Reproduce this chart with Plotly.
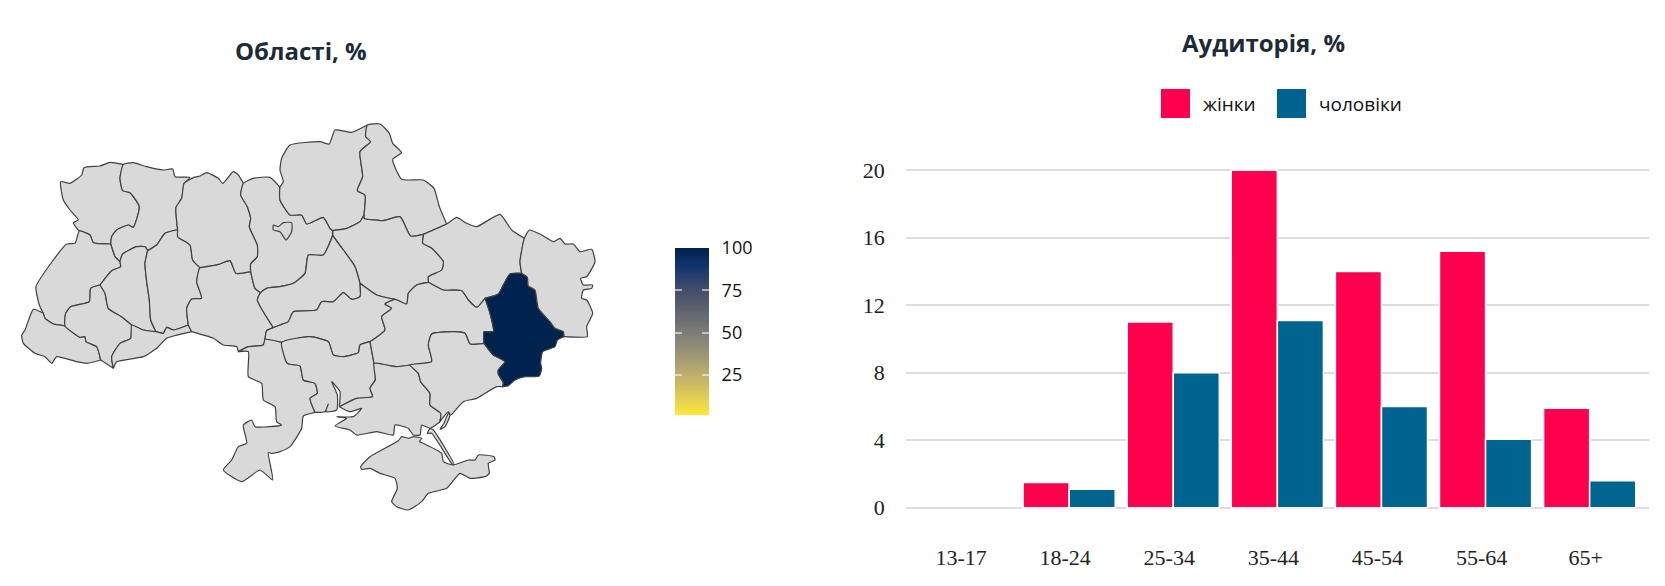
import numpy as np
import plotly.colors as pc
import plotly.graph_objects as go

# bar chart data
age_groups = ["13-17", "18-24", "25-34", "35-44", "45-54", "55-64", "65+"]
women = [0, 1.5, 11, 20, 14, 15.2, 5.9]
men = [0, 1.1, 8, 11.1, 6, 4.05, 1.6]
y_ticks = [0, 4, 8, 12, 16, 20]

# map data, only one region has a value
region_values = {"Донецька": 100}
cbar_min = 1.4
cbar_max = 100
cbar_ticks = [25, 50, 75, 100]

# oblast borders, 3 map units = 1 screen pixel
volyn_north = [(238, 693), (220, 668), (235, 660), (210, 630), (190, 600), (182, 545), (210, 550), (245, 525), (252, 503), (300, 498), (330, 487), (370, 493)]
volyn_rivne = [(370, 493), (360, 535), (368, 572), (390, 578), (418, 620), (400, 682), (385, 675), (350, 690), (335, 710), (332, 732)]
volyn_lviv = [(332, 732), (280, 728), (270, 705), (238, 693)]
rivne_north = [(370, 493), (400, 488), (440, 500), (490, 510), (518, 507), (525, 530), (570, 532), (552, 550)]
rivne_zhytomyr = [(552, 550), (545, 595), (528, 622), (533, 690)]
rivne_khmel = [(533, 690), (495, 700), (470, 735), (443, 752)]
rivne_tern = [(443, 752), (435, 740), (410, 740), (368, 762), (360, 785)]
rivne_lviv = [(360, 785), (345, 770), (332, 732)]
lviv_west = [(238, 693), (225, 730), (200, 732), (160, 780), (108, 860), (118, 915), (130, 940)]
lviv_zak = [(130, 940), (135, 955), (160, 972), (195, 978)]
lviv_if = [(195, 978), (197, 940), (212, 920), (268, 905), (272, 865), (300, 855)]
lviv_tern = [(300, 855), (335, 812), (362, 800), (360, 785)]
tern_khm = [(443, 752), (435, 790), (440, 845), (448, 900), (452, 960), (468, 995)]
tern_chern = [(468, 995), (430, 990), (395, 975)]
tern_if = [(395, 975), (365, 950), (325, 925), (315, 880), (300, 855)]
khm_zhy = [(533, 690), (533, 710), (570, 735), (578, 780), (600, 803)]
khm_vin = [(600, 803), (590, 845), (605, 895), (575, 897), (560, 925), (565, 975)]
khm_chern = [(565, 975), (520, 990), (500, 982), (490, 1000), (468, 995)]
chern_if = [(395, 975), (392, 1015), (360, 1030), (335, 1070), (340, 1105)]
chern_south = [(340, 1105), (350, 1085), (430, 1070), (470, 1045), (500, 1015), (575, 995)]
chern_vin = [(565, 975), (575, 995)]
if_zak = [(195, 978), (240, 1012), (255, 1010), (258, 1025), (290, 1040), (302, 1080)]
if_south = [(302, 1080), (340, 1105)]
zak_outer = [(302, 1080), (262, 1090), (230, 1085), (170, 1070), (155, 1090), (135, 1070), (105, 1060), (70, 1030), (65, 1005), (75, 990), (100, 928), (130, 940)]
vin_zhy = [(600, 803), (655, 793), (690, 782), (708, 820), (752, 815)]
vin_kyiv = [(752, 815), (765, 865), (782, 878)]
vin_cher = [(782, 878), (772, 900), (820, 983)]
vin_kir = [(820, 983), (800, 992), (795, 1018)]
vin_odesa = [(795, 1018), (790, 1035), (745, 1040), (715, 1055)]
vin_south = [(575, 995), (640, 1015), (670, 1035), (710, 1040), (715, 1055)]
zhy_north = [(552, 550), (582, 532), (600, 528), (620, 518), (655, 535), (668, 550), (700, 515), (715, 525), (730, 550)]
zhy_kyiv = [(730, 550), (722, 585), (742, 620), (752, 655), (748, 680), (772, 735), (772, 770), (752, 792), (752, 815)]
kyiv_north = [(730, 550), (760, 535), (810, 532), (840, 562)]
kyiv_chernihiv = [(840, 562), (840, 600), (870, 645), (905, 645), (920, 672), (970, 652), (990, 685), (998, 692)]
kyiv_cher = [(998, 692), (998, 705), (970, 765), (925, 765), (915, 820), (880, 850), (840, 860), (800, 865), (782, 878)]
chernihiv_west = [(840, 562), (850, 545), (840, 510), (845, 475), (870, 435), (960, 425), (988, 432), (1005, 390), (1055, 397), (1102, 375)]
chernihiv_sumy = [(1102, 375), (1097, 410), (1112, 425), (1080, 455), (1088, 530), (1072, 572), (1095, 585), (1092, 645)]
chernihiv_poltava = [(1092, 645), (1080, 665), (1040, 685), (998, 692)]
sumy_north = [(1102, 375), (1140, 372), (1168, 400), (1178, 430), (1205, 458), (1178, 478), (1205, 538), (1270, 540), (1302, 565), (1318, 620), (1340, 672)]
sumy_poltava = [(1092, 645), (1092, 655), (1150, 662), (1200, 650), (1232, 708), (1270, 703)]
sumy_kharkiv = [(1270, 703), (1340, 672)]
kharkiv_north = [(1340, 672), (1370, 652), (1400, 670), (1430, 680), (1500, 643), (1535, 690), (1573, 715)]
kharkiv_luhansk = [(1573, 715), (1560, 785), (1565, 820)]
donetsk_kharkiv = [(1565, 820), (1530, 822), (1510, 855), (1495, 882), (1455, 895)]
kharkiv_dnipro = [(1455, 895), (1430, 922), (1405, 900), (1385, 872), (1330, 870), (1285, 847)]
kharkiv_poltava = [(1285, 847), (1285, 830), (1325, 810), (1330, 785), (1295, 745), (1268, 730), (1270, 703)]
poltava_cher = [(998, 692), (998, 705), (1030, 750), (1065, 800), (1080, 850)]
cher_kir = [(1080, 850), (1080, 890), (1055, 898), (1030, 878), (1000, 905), (965, 905), (950, 930), (880, 935), (865, 965), (840, 975), (820, 983)]
poltava_kir = [(1080, 850), (1130, 885), (1185, 898)]
poltava_dnipro = [(1185, 898), (1220, 912), (1225, 880), (1250, 855), (1285, 847)]
kir_dnipro = [(1185, 898), (1155, 912), (1175, 925), (1145, 950), (1155, 990), (1110, 1025)]
kir_myk = [(1110, 1025), (1080, 1035), (1075, 1058), (1030, 1070), (1000, 1065), (985, 1025), (930, 1010), (845, 1027)]
kir_odesa = [(845, 1027), (795, 1018)]
myk_odesa = [(845, 1027), (862, 1090), (900, 1098), (910, 1140), (945, 1150), (952, 1180), (930, 1195), (945, 1237)]
odesa_coast = [(945, 1237), (910, 1248), (905, 1285), (870, 1340), (840, 1355), (815, 1360), (805, 1358), (818, 1440), (780, 1410), (725, 1445), (670, 1410), (695, 1380), (715, 1340), (740, 1330), (730, 1275), (755, 1260), (765, 1280), (810, 1280), (845, 1275), (830, 1265), (825, 1220), (790, 1200), (785, 1150), (745, 1130), (745, 1055), (715, 1055)]
myk_coast = [(945, 1237), (975, 1235), (985, 1212), (978, 1235), (1010, 1230), (1012, 1185), (995, 1145), (1020, 1175), (1018, 1220)]
myk_kherson = [(1018, 1220), (1070, 1195), (1118, 1190), (1110, 1165), (1126, 1140), (1122, 1090)]
myk_dnipro = [(1110, 1025), (1122, 1090)]
dnipro_kherson = [(1122, 1090), (1160, 1095), (1190, 1100), (1230, 1095)]
dnipro_zap = [(1230, 1095), (1295, 1085), (1285, 1035), (1295, 1002), (1360, 995), (1395, 1000), (1410, 1032), (1452, 1030)]
donetsk_dnipro = [(1455, 895), (1470, 940), (1480, 995), (1452, 995), (1452, 1030)]
kherson_zap = [(1230, 1095), (1255, 1120), (1262, 1145), (1290, 1180), (1290, 1215), (1322, 1240), (1320, 1265)]
kherson_coast = [(1018, 1220), (1050, 1235), (1085, 1225), (1060, 1250), (1010, 1250), (1040, 1255), (1005, 1278), (1050, 1290), (1070, 1305), (1130, 1295), (1180, 1305), (1185, 1275), (1225, 1285), (1240, 1305), (1260, 1305), (1265, 1275), (1290, 1285), (1320, 1265)]
zap_coast = [(1320, 1265), (1345, 1235), (1350, 1245), (1335, 1280), (1320, 1288), (1332, 1270), (1345, 1240), (1352, 1245), (1390, 1205), (1430, 1195), (1490, 1160), (1508, 1160)]
donetsk_zap = [(1452, 1030), (1480, 1065), (1515, 1085), (1495, 1110), (1495, 1122), (1510, 1148), (1508, 1160)]
donetsk_russia = [(1508, 1160), (1525, 1157), (1545, 1140), (1575, 1130), (1618, 1128), (1625, 1105), (1622, 1090), (1628, 1055), (1665, 1040), (1672, 1020), (1692, 1010)]
donetsk_luhansk = [(1565, 820), (1582, 832), (1585, 858), (1605, 870), (1615, 925), (1650, 965), (1665, 985), (1690, 995), (1692, 1010)]
luhansk_outer = [(1573, 715), (1588, 690), (1625, 705), (1660, 725), (1680, 715), (1695, 732), (1720, 732), (1740, 755), (1775, 748), (1785, 785), (1760, 830), (1742, 835), (1750, 855), (1778, 855), (1775, 865), (1750, 870), (1745, 895), (1760, 900), (1778, 940), (1760, 980), (1762, 1010), (1692, 1010)]
crimea_outline = [(1082, 1400), (1110, 1370), (1195, 1322), (1205, 1310), (1225, 1315), (1240, 1310), (1265, 1315), (1258, 1325), (1270, 1330), (1325, 1360), (1330, 1385), (1360, 1395), (1405, 1380), (1425, 1380), (1435, 1365), (1482, 1370), (1485, 1380), (1465, 1390), (1468, 1420), (1455, 1430), (1410, 1435), (1380, 1420), (1340, 1465), (1285, 1480), (1265, 1505), (1225, 1530), (1190, 1520), (1175, 1505), (1192, 1465), (1185, 1435), (1140, 1420), (1110, 1405), (1085, 1408), (1082, 1400)]
arabat_spit = [(1282, 1300), (1290, 1286), (1300, 1290), (1362, 1393), (1357, 1393), (1295, 1300), (1282, 1300)]
kyiv_city = [(820, 675), (835, 680), (850, 668), (875, 668), (875, 695), (858, 720), (840, 695), (820, 690), (820, 675)]


def rev(arc):
    return arc[::-1]


regions = {
    "Волинська": [volyn_north, volyn_rivne, volyn_lviv],
    "Рівненська": [rivne_north, rivne_zhytomyr, rivne_khmel, rivne_tern, rivne_lviv, rev(volyn_rivne)],
    "Львівська": [lviv_west, lviv_zak, lviv_if, lviv_tern, rivne_lviv, volyn_lviv],
    "Закарпатська": [rev(lviv_zak), rev(zak_outer), rev(if_zak)],
    "Івано-Франківська": [if_zak, if_south, rev(chern_if), tern_if, rev(lviv_if)],
    "Тернопільська": [rev(rivne_tern), tern_khm, tern_chern, tern_if, lviv_tern],
    "Хмельницька": [rivne_khmel, tern_khm, rev(khm_chern), rev(khm_vin), rev(khm_zhy)],
    "Чернівецька": [rev(tern_chern), rev(khm_chern), chern_vin, rev(chern_south), rev(chern_if)],
    "Вінницька": [vin_zhy, vin_kyiv, vin_cher, vin_kir, vin_odesa, rev(vin_south), rev(chern_vin), rev(khm_vin)],
    "Житомирська": [zhy_north, zhy_kyiv, rev(vin_zhy), rev(khm_zhy), rev(rivne_zhytomyr)],
    "Київська": [kyiv_north, kyiv_chernihiv, kyiv_cher, rev(vin_kyiv), rev(zhy_kyiv)],
    "Чернігівська": [chernihiv_west, chernihiv_sumy, chernihiv_poltava, rev(kyiv_chernihiv)],
    "Сумська": [sumy_north, rev(sumy_kharkiv), rev(sumy_poltava), rev(chernihiv_sumy)],
    "Харківська": [kharkiv_north, kharkiv_luhansk, donetsk_kharkiv, kharkiv_dnipro, kharkiv_poltava, sumy_kharkiv],
    "Полтавська": [sumy_poltava, rev(kharkiv_poltava), rev(poltava_dnipro), rev(poltava_kir), rev(poltava_cher), rev(chernihiv_poltava)],
    "Черкаська": [rev(kyiv_cher), poltava_cher, cher_kir, rev(vin_cher)],
    "Кіровоградська": [rev(cher_kir), poltava_kir, kir_dnipro, kir_myk, kir_odesa, rev(vin_kir)],
    "Одеська": [rev(kir_odesa), myk_odesa, odesa_coast, rev(vin_odesa)],
    "Миколаївська": [rev(kir_myk), myk_dnipro, rev(myk_kherson), rev(myk_coast), rev(myk_odesa)],
    "Дніпропетровська": [poltava_dnipro, rev(kharkiv_dnipro), donetsk_dnipro, rev(dnipro_zap), rev(dnipro_kherson), rev(myk_dnipro), rev(kir_dnipro)],
    "Херсонська": [dnipro_kherson, kherson_zap, rev(kherson_coast), myk_kherson],
    "Запорізька": [dnipro_zap, donetsk_zap, rev(zap_coast), rev(kherson_zap)],
    "Донецька": [donetsk_luhansk, rev(donetsk_russia), rev(donetsk_zap), rev(donetsk_dnipro), rev(donetsk_kharkiv)],
    "Луганська": [luhansk_outer, rev(donetsk_luhansk), rev(kharkiv_luhansk)],
    "Крим": [crimea_outline],
    "Арабатська стрілка": [arabat_spit],
    "м. Київ": [kyiv_city],
}

W, H = 1665, 586
MAP_WIDTH = 650  # the map axes stop before the color scale starts
Y_PAD = 0.3  # a bit of room so the gridlines at 0 and 20 are drawn
PX_PER_UNIT = 16.875
COLORSCALE = "cividis_r"
NO_DATA = "#d9d9d9"
BORDER = "#404040"
RED = "#ff004f"
BLUE = "#006491"
TITLE_COLOR = "#1c2b36"
SANS = "Open Sans"
SERIF = "Liberation Serif"


def region_color(name):
    if name not in region_values:
        return NO_DATA
    t = (region_values[name] - cbar_min) / (cbar_max - cbar_min)
    return pc.sample_colorscale(COLORSCALE, [t])[0]


def bar_marker(color, values):
    # empty bars get no outline, it would cut the gridline at 0
    widths = [1.5 if v else 0 for v in values]
    return dict(color=color, line=dict(color="white", width=widths))


fig = go.Figure()

for name, arcs in regions.items():
    pts = [p for arc in arcs for p in arc]
    fig.add_trace(go.Scatter(
        x=[p[0] for p in pts], y=[p[1] for p in pts],
        xaxis="x2", yaxis="y2", mode="lines", fill="toself",
        fillcolor=region_color(name), line=dict(color=BORDER, width=1.2, shape="spline", smoothing=0.5),
        name=name, hoveron="fills", showlegend=False,
    ))

# color scale as a small heatmap, a real colorbar can't have ticks on both sides
levels = np.linspace(cbar_min, cbar_max, 100)
fig.add_trace(go.Heatmap(
    z=[[v] for v in levels], y=levels, x=[0], xaxis="x3", yaxis="y3", colorscale=COLORSCALE,
    zmin=cbar_min, zmax=cbar_max, showscale=False, zsmooth="best", hoverinfo="skip",
))

fig.add_trace(go.Bar(x=age_groups, y=women, name="жінки", marker=bar_marker(RED, women)))
fig.add_trace(go.Bar(x=age_groups, y=men, name="чоловіки", marker=bar_marker(BLUE, men)))

# legend with big square swatches
legend_items = [("жінки", RED, 1161, 1201), ("чоловіки", BLUE, 1277, 1317)]
shapes = []
annotations = [
    dict(text="<b>Області, %</b>", x=301 / W, y=1 - 51 / H, xref="paper", yref="paper", showarrow=False,
         xanchor="center", yanchor="middle", font=dict(family=SANS, size=24, color=TITLE_COLOR)),
    dict(text="<b>Аудиторія, %</b>", x=1263 / W, y=1 - 43 / H, xref="paper", yref="paper", showarrow=False,
         xanchor="center", yanchor="middle", font=dict(family=SANS, size=24, color=TITLE_COLOR)),
]
for label, color, sx, tx in legend_items:
    shapes.append(dict(type="rect", xref="paper", yref="paper", x0=sx / W, x1=(sx + 29) / W,
                       y0=1 - 118 / H, y1=1 - 89 / H, fillcolor=color, line=dict(width=0)))
    annotations.append(dict(text=label, x=tx / W, y=1 - 104 / H, xref="paper", yref="paper", xanchor="left",
                            yanchor="middle", showarrow=False, font=dict(family=SANS, size=19, color="#111")))

fig.update_layout(
    width=W, height=H, margin=dict(l=0, r=0, t=0, b=0), paper_bgcolor="white", plot_bgcolor="rgba(0,0,0,0)",
    showlegend=False, barmode="group", bargap=0.115, bargroupgap=0,
    shapes=shapes, annotations=annotations,
    xaxis=dict(domain=[905.7 / W, 1649 / W], anchor="y", type="category", range=[-0.57, 6.57], showgrid=False,
               showline=False, zeroline=False, ticks="", ticklabelstandoff=29, ticklabelshift=-4, automargin=False,
               tickfont=dict(family=SERIF, size=22, color="#222")),
    yaxis=dict(domain=[1 - (507.7 + Y_PAD * PX_PER_UNIT) / H, 1 - (170.2 - Y_PAD * PX_PER_UNIT) / H], anchor="x",
               range=[-Y_PAD, 20 + Y_PAD], tickvals=y_ticks, gridcolor="#dcdce4", gridwidth=2, zeroline=False,
               showline=False, ticks="", ticklabelstandoff=20, automargin=False,
               tickfont=dict(family=SERIF, size=22, color="#222")),
    xaxis2=dict(domain=[0, MAP_WIDTH / W], anchor="y2", range=[0, MAP_WIDTH * 3], visible=False, fixedrange=True,
                automargin=False),
    yaxis2=dict(domain=[0, 1], anchor="x2", range=[H * 3, 0], visible=False, fixedrange=True, automargin=False),
    xaxis3=dict(domain=[675 / W, 709 / W], anchor="y3", range=[-0.5, 0.5], visible=False, fixedrange=True,
                automargin=False),
    yaxis3=dict(domain=[1 - 415 / H, 1 - 248 / H], anchor="x3", side="right", range=[cbar_min, cbar_max],
                tickvals=cbar_ticks, showgrid=False, zeroline=False, showline=True, linewidth=1,
                linecolor="rgba(255,255,255,0.45)", mirror="ticks", ticks="inside", ticklen=7, tickwidth=1.5,
                tickcolor="rgba(255,255,255,0.55)", ticklabelstandoff=8, automargin=False, fixedrange=True,
                tickfont=dict(family=SANS, size=18, color="#111")),
)

fig.write_html("out.html", config={"displayModeBar": False}, post_script="document.body.style.margin = '0';")
